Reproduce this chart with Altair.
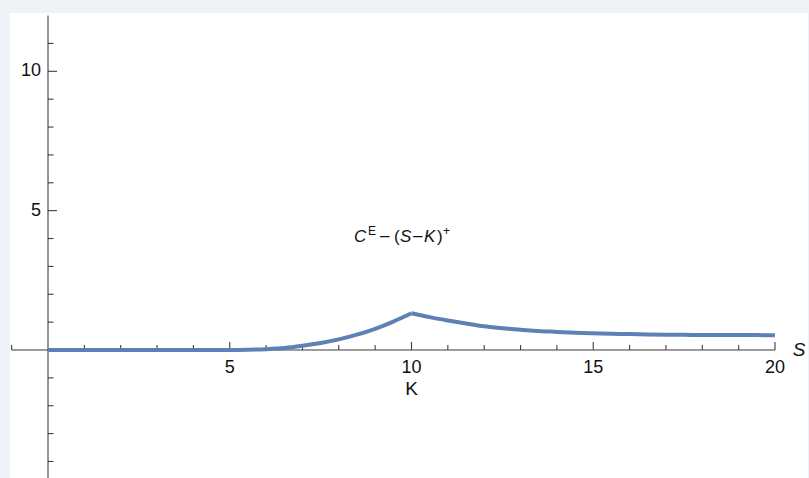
import altair as alt
import pandas as pd

# ---- data ----
s_left = [0, 0.5, 1, 1.5, 2, 2.5, 3, 3.5, 4, 4.5, 5, 5.5, 6, 6.5, 7, 7.5, 8, 8.5, 9, 9.5, 10]
v_left = [0, 0, 0, 0, 0, 0, 0, 0, 0, 0, 0.0, 0.01, 0.03, 0.07, 0.15, 0.25, 0.38, 0.55, 0.76, 1.02, 1.32]
s_right = [10, 10.5, 11, 11.5, 12, 12.5, 13, 13.5, 14, 14.5, 15, 15.5, 16, 16.5, 17, 17.5, 18, 18.5, 19, 19.5, 20]
v_right = [1.32, 1.18, 1.06, 0.95, 0.85, 0.78, 0.73, 0.68, 0.65, 0.62, 0.60, 0.58, 0.57, 0.56, 0.55, 0.545, 0.54, 0.54, 0.535, 0.535, 0.53]

x_ticks = [v for v in range(-1, 21) if v != 0]
x_major = [5, 10, 15, 20]
y_ticks = [v for v in range(-4, 12) if v != 0]
y_major = [5, 10]
x_labels = ["5", "10", "15", "20"]
y_labels = ["5", "10"]

# ---- geometry / style ----
PX_X = 36.35   # pixels per x unit
PX_Y = 27.87   # pixels per y unit
XS = alt.Scale(domain=[-1.0454, 20.908], nice=False, zero=False)
YS = alt.Scale(domain=[-4.593, 12.092], nice=False, zero=False)
AX = "#3d3d3d"
TXT = "#111111"
FONT = "Liberation Sans"
CURVE = "#5E81B5"


def X(field):
    return alt.X(field, type="quantitative", scale=XS, axis=None)


def Y(field):
    return alt.Y(field, type="quantitative", scale=YS, axis=None)


curve_df = pd.DataFrame({
    "S": s_left + s_right,
    "V": v_left + v_right,
    "part": ["L"] * len(s_left) + ["R"] * len(s_right),
})

axes_df = pd.DataFrame({
    "x": [-1, 0], "x2": [20, 0], "y": [0, YS.domain[0]], "y2": [0, 12],
})

xt_df = pd.DataFrame({
    "x": x_ticks,
    "y": [0] * len(x_ticks),
    "y2": [(8 if v in x_major else 5) / PX_Y for v in x_ticks],
})
yt_df = pd.DataFrame({
    "y": y_ticks,
    "x": [0] * len(y_ticks),
    "x2": [(9 if v in y_major else 5.5) / PX_X for v in y_ticks],
})

xl_df = pd.DataFrame({"x": x_major, "y": [0] * 4, "t": x_labels})
yl_df = pd.DataFrame({"y": y_major, "x": [0] * 2, "t": y_labels})

axes = alt.Chart(axes_df).mark_rule(color=AX, strokeWidth=1.1).encode(
    x=X("x"), x2="x2", y=Y("y"), y2="y2")
xt = alt.Chart(xt_df).mark_rule(color=AX, strokeWidth=1.1).encode(
    x=X("x"), y=Y("y"), y2="y2")
yt = alt.Chart(yt_df).mark_rule(color=AX, strokeWidth=1.1).encode(
    y=Y("y"), x=X("x"), x2="x2")

xl = alt.Chart(xl_df).mark_text(font=FONT, fontSize=18, color=TXT, align="center",
                                baseline="middle", dy=18.5).encode(
    x=X("x"), y=Y("y"), text="t:N")
yl = alt.Chart(yl_df).mark_text(font=FONT, fontSize=18, color=TXT, align="right",
                                baseline="middle", dx=-7).encode(
    x=X("x"), y=Y("y"), text="t:N")

curve = alt.Chart(curve_df).mark_line(color=CURVE, strokeWidth=4,
                                      interpolate="monotone").encode(
    x=X("S"), y=Y("V"), detail="part:N")

k_lab = alt.Chart(pd.DataFrame({"x": [10], "y": [0]})).mark_text(
    text="K", font=FONT, fontSize=19, color=TXT, align="center", baseline="middle", dy=39.5
).encode(x=X("x"), y=Y("y"))
s_lab = alt.Chart(pd.DataFrame({"x": [(799 - 48) / PX_X], "y": [0]})).mark_text(
    text="S", font=FONT, fontSize=19, fontStyle="italic", color=TXT, align="center",
    baseline="middle"
).encode(x=X("x"), y=Y("y"))

# formula annotation pieces: (text, left pixel, baseline pixel, size, italic)
pieces = [
    ("C", 354, 242, 17, True),
    ("E", 368, 235, 12, False),
    ("\u2013", 380, 241, 17, False),
    ("(", 394, 242, 17, False),
    ("S", 400, 242, 17, True),
    ("\u2013", 413, 241, 17, False),
    ("K", 424, 242, 17, True),
    (")", 437, 242, 17, False),
    ("+", 443, 235, 12, False),
]
formula = []
for t, px, py, fs, it in pieces:
    d = pd.DataFrame({"x": [(px - 48) / PX_X], "y": [(350 - py) / PX_Y]})
    kw = dict(text=t, font=FONT, fontSize=fs, color=TXT, align="left", baseline="alphabetic")
    if it:
        kw["fontStyle"] = "italic"
    formula.append(alt.Chart(d).mark_text(**kw).encode(x=X("x"), y=Y("y")))

chart = alt.layer(axes, xt, yt, curve, xl, yl, k_lab, s_lab, *formula).properties(
    width=798, height=465,
    padding={"left": 10, "top": 13, "right": 1, "bottom": 0},
    autosize=alt.AutoSizeParams(type="none"),
    background="#eff2f6",
).configure_view(fill="white", stroke=None)

chart.save("out.html", embed_options={"renderer": "svg", "actions": False})
